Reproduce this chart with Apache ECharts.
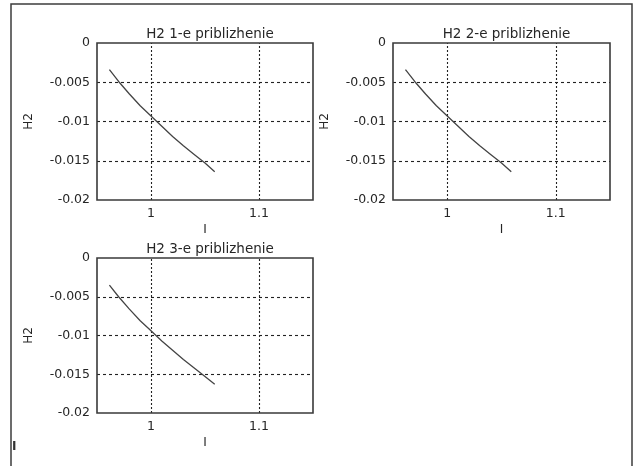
<!DOCTYPE html>
<html>
<head>
<meta charset="utf-8">
<script src="https://cdn.jsdelivr.net/npm/echarts@6/dist/echarts.min.js"></script>
<style>html,body{margin:0;padding:0;background:#fff}#c{width:637px;height:466px}</style>
</head>
<body>
<div id="c"></div>
<script>
// Data
const titles = ['H2 1-e priblizhenie', 'H2 2-e priblizhenie', 'H2 3-e priblizhenie'];
const xValues = [0.9615, 0.97, 0.98, 0.99, 1.00, 1.01, 1.02, 1.03, 1.04, 1.05, 1.059];
const h2First  = [-0.0034, -0.0049, -0.0065, -0.0080, -0.0093, -0.0106, -0.0119, -0.0131, -0.0142, -0.0153, -0.0164];
const h2Second = [-0.0034, -0.0049, -0.0065, -0.0080, -0.0093, -0.0106, -0.0119, -0.0131, -0.0142, -0.0153, -0.0164];
const h2Third  = [-0.0035, -0.0050, -0.0066, -0.0081, -0.0094, -0.0107, -0.0119, -0.0131, -0.0142, -0.0153, -0.0163];
const xTicks = [1, 1.1];
const yTicks = [0, -0.005, -0.01, -0.015, -0.02];
const xName = 'I';
const yName = 'H2';

const seriesData = [h2First, h2Second, h2Third];
const grids = [
  {left: 97, top: 43, width: 216, height: 157},
  {left: 393, top: 43, width: 217, height: 157},
  {left: 97, top: 258, width: 216, height: 155}
];
const font = 'DejaVu Sans';
const txt = '#262626';

const option = {
  animation: false,
  backgroundColor: '#fff',
  title: grids.map((g, i) => ({
    text: titles[i],
    left: g.left + g.width / 2,
    textAlign: 'center',
    top: g.top - 21,
    textStyle: {fontFamily: font, fontSize: 13.5, fontWeight: 'normal', color: txt}
  })),
  grid: grids.map(g => Object.assign({show: false}, g)),
  xAxis: grids.map((g, i) => ({
    type: 'value', gridIndex: i, min: 0.95, max: 1.15,
    name: xName, nameLocation: 'middle', nameGap: 24,
    nameTextStyle: {fontFamily: font, fontSize: 12, color: txt},
    axisLine: {show: false}, axisTick: {show: false}, splitLine: {show: false},
    axisLabel: {customValues: xTicks, fontFamily: font, fontSize: 12.5, color: txt, margin: 7,
      formatter: v => String(Math.round(v * 10) / 10)}
  })),
  yAxis: grids.map((g, i) => ({
    type: 'value', gridIndex: i, min: yTicks[yTicks.length - 1], max: yTicks[0], interval: 0.005,
    name: yName, nameLocation: 'middle', nameGap: 62,
    nameTextStyle: {fontFamily: font, fontSize: 12, color: txt},
    axisLine: {show: false}, axisTick: {show: false},
    splitLine: {show: true, showMinLine: false, showMaxLine: false, lineStyle: {type: [3, 3], color: '#222', width: 1.1}},
    axisLabel: {fontFamily: font, fontSize: 12.5, color: txt, margin: 7,
      formatter: v => String(Math.round(v * 1000) / 1000)}
  })),
  series: seriesData.map((d, i) => ({
    type: 'line', xAxisIndex: i, yAxisIndex: i,
    data: xValues.map((x, k) => [x, d[k]]),
    symbol: 'none', z: 5,
    lineStyle: {color: '#444', width: 1.3},
    markLine: {
      silent: true, symbol: 'none', label: {show: false}, animation: false,
      lineStyle: {type: [2, 2], color: '#222', width: 1.1},
      data: xTicks.map(v => ({xAxis: v}))
    }
  })),
  graphic: grids.map(g => ({
    type: 'rect', shape: {x: g.left, y: g.top, width: g.width, height: g.height},
    style: {fill: 'none', stroke: '#3a3a3a', lineWidth: 1.6}, z: 50, silent: true
  })).concat([
    {type: 'rect', shape: {x: 11, y: 4, width: 621, height: 480}, style: {fill: 'none', stroke: '#3c3c3c', lineWidth: 1.5}, z: 100, silent: true},
    {type: 'text', left: 12, top: 441, style: {text: 'I', font: 'bold 12px DejaVu Sans', fill: '#333'}, z: 100}
  ])
};
echarts.init(document.getElementById('c'), null, {renderer: 'canvas'}).setOption(option);
</script>
</body>
</html>
